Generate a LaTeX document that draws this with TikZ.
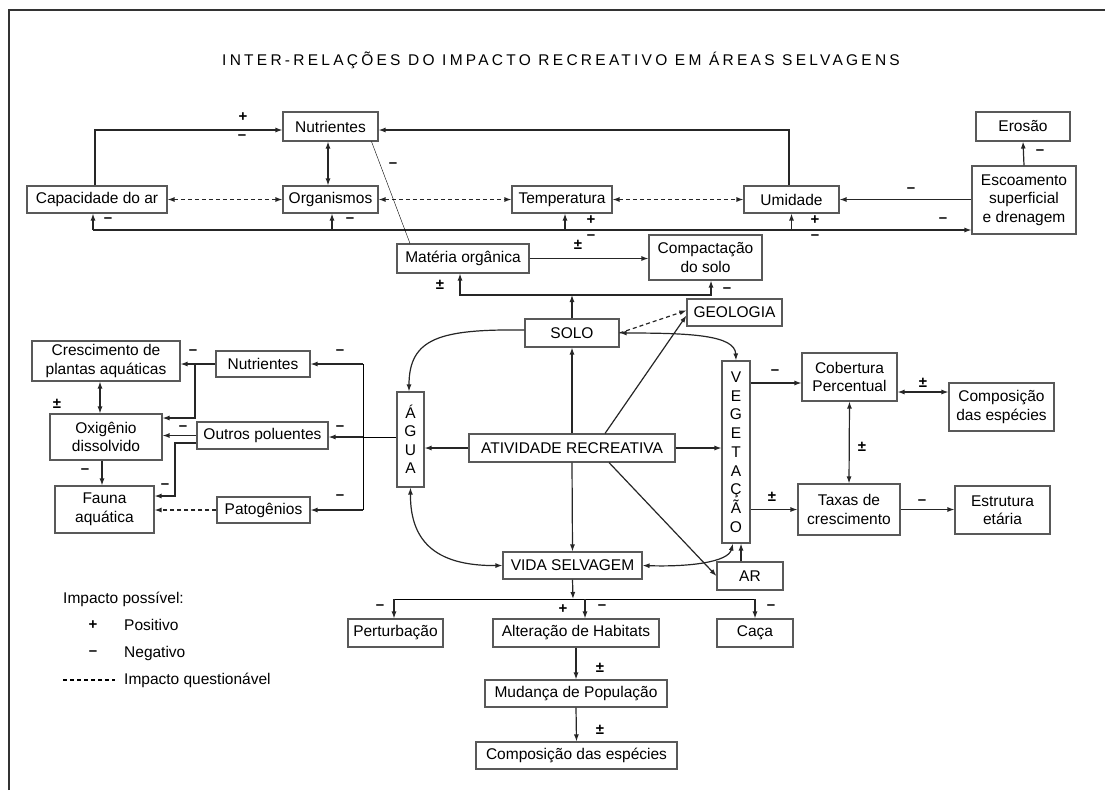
\documentclass[tikz,border=0pt]{standalone}
\usepackage{fontspec}
\setmainfont{Liberation Sans}
\usetikzlibrary{arrows.meta}

\begin{document}
\begin{tikzpicture}[x=1pt, y=-1pt, font=\fontsize{15.5}{18.5}\selectfont,
		box/.style={draw=black!65, line width=1.1pt, fill=white, inner sep=0pt, align=center},
		arr/.style={-{Latex[length=7pt,width=5pt]}, line width=1.2pt, black!85},
		darr/.style={{Latex[length=7pt,width=5pt]}-{Latex[length=7pt,width=5pt]}, line width=1.2pt, black!85},
		qarr/.style={darr, dash pattern=on 4pt off 3pt},
		sgn/.style={font=\fontsize{15}{15}\selectfont\bfseries, inner sep=0pt},
		lbl/.style={anchor=west, inner sep=0pt}]
		\useasboundingbox (0,0) rectangle (1105,790);
		\draw[line width=1.6pt, black!80] (9,790) -- (9,10) -- (1105,10);
		\node (title) at (561,60) {\addfontfeatures{LetterSpace=21}INTER-RELAÇÕES DO IMPACTO RECREATIVO EM ÁREAS SELVAGENS};

		% upper part
		\node[box, minimum width=95pt, minimum height=29pt] (nutA) at (330.5,126.5) {Nutrientes};
		\node[box, minimum width=140pt, minimum height=27pt] (capar) at (97,199.5) {Capacidade do ar};
		\node[box, minimum width=95pt, minimum height=27pt] (organ) at (330.5,199.5) {Organismos};
		\node[box, minimum width=100pt, minimum height=27pt] (temp) at (562,199.5) {Temperatura};
		\node[box, minimum width=95pt, minimum height=27pt] (umid) at (791.5,199.5) {Umidade};
		\node[box, minimum width=94pt, minimum height=29pt] (erosao) at (1023,126.5) {Erosão};
		\node[box, minimum width=104pt, minimum height=68pt] (escoa) at (1024,200) {Escoamento\\superficial\\e drenagem};
		\node[box, minimum width=132pt, minimum height=29pt] (materia) at (463,258.5) {Matéria orgânica};
		\node[box, minimum width=113pt, minimum height=45pt] (compact) at (705.5,257.5) {Compactação\\do solo};

		% centre
		\node[box, minimum width=95pt, minimum height=27pt] (geol) at (734.5,312.5) {GEOLOGIA};
		\node[box, minimum width=94pt, minimum height=28pt] (solo) at (572,333) {SOLO};
		\node[box, minimum width=27pt, minimum height=95pt] (agua) at (410.5,439.5) {Á\\G\\U\\A};
		\node[box, minimum width=206pt, minimum height=28pt] (ativ) at (572,448) {ATIVIDADE RECREATIVA};
		\node[box, minimum width=28pt, minimum height=182pt, font=\fontsize{15.5}{18.75}\selectfont] (veg) at (736,452) {V\\E\\G\\E\\T\\A\\Ç\\Ã\\O};
		\node[box, minimum width=139pt, minimum height=27pt] (vida) at (572.5,565.5) {VIDA SELVAGEM};
		\node[box, minimum width=66pt, minimum height=28pt] (ar) at (750,576) {AR};

		% water side
		\node[box, minimum width=148pt, minimum height=40pt] (cresc) at (106,361) {Crescimento de\\plantas aquáticas};
		\node[box, minimum width=94pt, minimum height=26pt] (nutB) at (263,364) {Nutrientes};
		\node[box, minimum width=112pt, minimum height=46pt] (oxig) at (106,437) {Oxigênio\\dissolvido};
		\node[box, minimum width=131pt, minimum height=27pt] (outros) at (262.5,435.5) {Outros poluentes};
		\node[box, minimum width=99pt, minimum height=47pt] (fauna) at (104.5,509.5) {Fauna\\aquática};
		\node[box, minimum width=93pt, minimum height=26pt] (patog) at (263.5,510) {Patogênios};

		% vegetation side
		\node[box, minimum width=95pt, minimum height=48pt] (cobert) at (849.5,377) {Cobertura\\Percentual};
		\node[box, minimum width=105pt, minimum height=48pt] (compB) at (1001.5,407) {Composição\\das espécies};
		\node[box, minimum width=102pt, minimum height=51pt] (taxas) at (849,509.5) {Taxas de\\crescimento};
		\node[box, minimum width=95pt, minimum height=48pt] (estrut) at (1002.5,510) {Estrutura\\etária};

		% wildlife
		\node[box, minimum width=95pt, minimum height=28pt] (pertb) at (395.5,633) {Perturbação};
		\node[box, minimum width=166pt, minimum height=28pt] (alter) at (576,633) {Alteração de Habitats};
		\node[box, minimum width=76pt, minimum height=28pt] (caca) at (755,633) {Caça};
		\node[box, minimum width=182pt, minimum height=27pt] (mudanca) at (576,693.5) {Mudança de População};
		\node[box, minimum width=201pt, minimum height=27pt] (compC) at (576.5,755.5) {Composição das espécies};

		% legend
		\node[lbl] (lgtit) at (63,599) {Impacto possível:};
		\node[sgn] (lgp) at (93,625) {+};
		\node[lbl] (lgpos) at (124,625) {Positivo};
		\node[sgn] (lgm) at (93,653) {–};
		\node[lbl] (lgneg) at (124,653) {Negativo};
		\coordinate (lgq) at (63,680);
		\draw[dash pattern=on 4pt off 3pt, line width=1.1pt] (lgq) -- ++(52,0);
		\node[lbl] (lgque) at (124,680) {Impacto questionável};

		% connectors, upper part
		\draw[arr] ([xshift=-2]capar.north) |- ([yshift=-3.5]nutA.west);
		\draw[arr] ([xshift=-2.5]umid.north) |- ([yshift=-3.5]nutA.east);
		\draw[darr] ([xshift=-2.5]nutA.south) -- ([xshift=-2.5]organ.north);
		\draw[qarr] (capar.east) -- (organ.west);
		\draw[qarr] (organ.east) -- (temp.west);
		\draw[qarr] (temp.east) -- (umid.west);
		\draw[arr] (escoa.west |- umid.east) -- (umid.east);
		\draw[arr] (escoa.north) -- (erosao.south);
		\coordinate (busL) at (93,230);
		\draw[arr] (busL) -- (escoa.west |- busL);
		\draw[arr] (busL) -- (busL |- capar.south);
		\draw[arr] ([xshift=1.5]organ.south |- busL) -- ([xshift=1.5]organ.south);
		\draw[arr] ([xshift=3]temp.south |- busL) -- ([xshift=3]temp.south);
		\draw[arr] (umid.south |- busL) -- (umid.south);
		\draw ([xshift=41]nutA.south) -- ([xshift=-53]materia.north);
		\draw[arr] (materia.east) -- (compact.west |- materia.east);
		\coordinate (sbus) at (572,295);
		\draw[arr] (solo.north) -- (sbus);
		\draw[arr] (sbus) -| ([xshift=-3]materia.south);
		\draw[arr] (sbus) -| ([xshift=5.5]compact.south);

		% connectors, centre
		\draw[arr, dash pattern=on 4pt off 3pt] (solo.east) -- ([yshift=2]geol.west);
		\draw[arr] ([xshift=33]ativ.north) -- ([yshift=-3]geol.west);
		\draw[arr] ([xshift=37]ativ.south) -- (ar.west);
		\draw[arr] (ativ.west) -- (agua.east |- ativ.west);
		\draw[arr] (ativ.east) -- (veg.west |- ativ.east);
		\draw[arr] (ativ.north) -- (solo.south);
		\draw[arr] (ativ.south) -- (vida.north);
		\draw[arr] ([yshift=3]solo.west) .. controls (440,329) and (409,338) .. ([xshift=-1.5]agua.north);
		\draw[darr] (solo.east) .. controls (690,333) and (735,335) .. (veg.north);
		\draw[darr] (agua.south) .. controls (410,545) and (440,566) .. (vida.west);
		\draw[darr] (vida.east) .. controls (690,567) and (728,562) .. ([xshift=-3]veg.south);
		\draw[arr] ([xshift=5]veg.south |- ar.north) -- ([xshift=5]veg.south);

		% connectors, water side
		\coordinate (wb) at (363,437);
		\draw (agua.west |- wb) -- (wb);
		\draw (wb |- nutB.east) -- (wb |- patog.east);
		\draw[arr] (wb |- nutB.east) -- (nutB.east);
		\draw[arr] (wb) -- (outros.east |- wb);
		\draw[arr] (wb |- patog.east) -- (patog.east);
		\draw[arr] (nutB.west) -- (cresc.east |- nutB.west);
		\draw[arr] (195,364) |- (oxig.east |- 0,418);
		\draw[arr] (outros.west) -- (oxig.east |- outros.west);
		\draw[arr] (outros.west |- 0,443) -- (175,443) |- (fauna.east |- 0,496);
		\draw[arr, dash pattern=on 4pt off 3pt] (patog.west) -- (fauna.east |- patog.west);
		\draw[darr] ([xshift=-6]cresc.south) -- ([xshift=-6]oxig.north);
		\draw[arr] ([xshift=-4]oxig.south) -- ([xshift=-4]oxig.south |- fauna.north);

		% connectors, vegetation side
		\draw[arr] (veg.east |- 0,383) -- (cobert.west |- 0,383);
		\draw[darr] (cobert.east |- 0,392) -- (compB.west |- 0,392);
		\draw[darr] (cobert.south) -- (taxas.north);
		\draw[arr] (veg.east |- taxas.west) -- (taxas.west);
		\draw[arr] (taxas.east) -- (estrut.west |- taxas.east);

		% connectors, wildlife
		\coordinate (vbus) at (573,599);
		\draw[arr] (vida.south) -- (vbus);
		\draw ([xshift=-1.5]pertb.north |- vbus) -- (caca.north |- vbus);
		\draw[arr] ([xshift=-1.5]pertb.north |- vbus) -- ([xshift=-1.5]pertb.north);
		\draw[arr] ([xshift=9]alter.north |- vbus) -- ([xshift=9]alter.north);
		\draw[arr] (caca.north |- vbus) -- (caca.north);
		\draw[arr] (alter.south) -- (mudanca.north);
		\draw[arr] (mudanca.south) -- (compC.north);

		% signs
		\node[sgn] (s1) at (243,117) {+};
		\node[sgn] (s2) at (242,137) {–};
		\node[sgn] (s3) at (393,165) {–};
		\node[sgn] (s4) at (108,220) {–};
		\node[sgn] (s5) at (350,220) {–};
		\node[sgn] (s6) at (591,220) {+};
		\node[sgn] (s7) at (591,237) {–};
		\node[sgn] (s8) at (815,220) {+};
		\node[sgn] (s9) at (815,237) {–};
		\node[sgn] (s10) at (943,220) {–};
		\node[sgn] (s11) at (911,190) {–};
		\node[sgn] (s12) at (1040,152) {–};
		\node[sgn] (s13) at (578,245) {±};
		\node[sgn] (s14) at (440,285) {±};
		\node[sgn] (s15) at (727,290) {–};
		\node[sgn] (s16) at (340,352) {–};
		\node[sgn] (s17) at (340,428) {–};
		\node[sgn] (s18) at (340,497) {–};
		\node[sgn] (s19) at (193,352) {–};
		\node[sgn] (s20) at (183,428) {–};
		\node[sgn] (s21) at (165,486) {–};
		\node[sgn] (s22) at (57,404) {±};
		\node[sgn] (s23) at (85,471) {–};
		\node[sgn] (s24) at (775,372) {–};
		\node[sgn] (s25) at (923,383) {±};
		\node[sgn] (s26) at (862,447) {±};
		\node[sgn] (s27) at (772,497) {±};
		\node[sgn] (s28) at (922,502) {–};
		\node[sgn] (s29) at (380,607) {–};
		\node[sgn] (s30) at (563,609) {+};
		\node[sgn] (s31) at (602,607) {–};
		\node[sgn] (s32) at (771,607) {–};
		\node[sgn] (s33) at (600,668) {±};
		\node[sgn] (s34) at (600,730) {±};
	\end{tikzpicture}
\end{document}
